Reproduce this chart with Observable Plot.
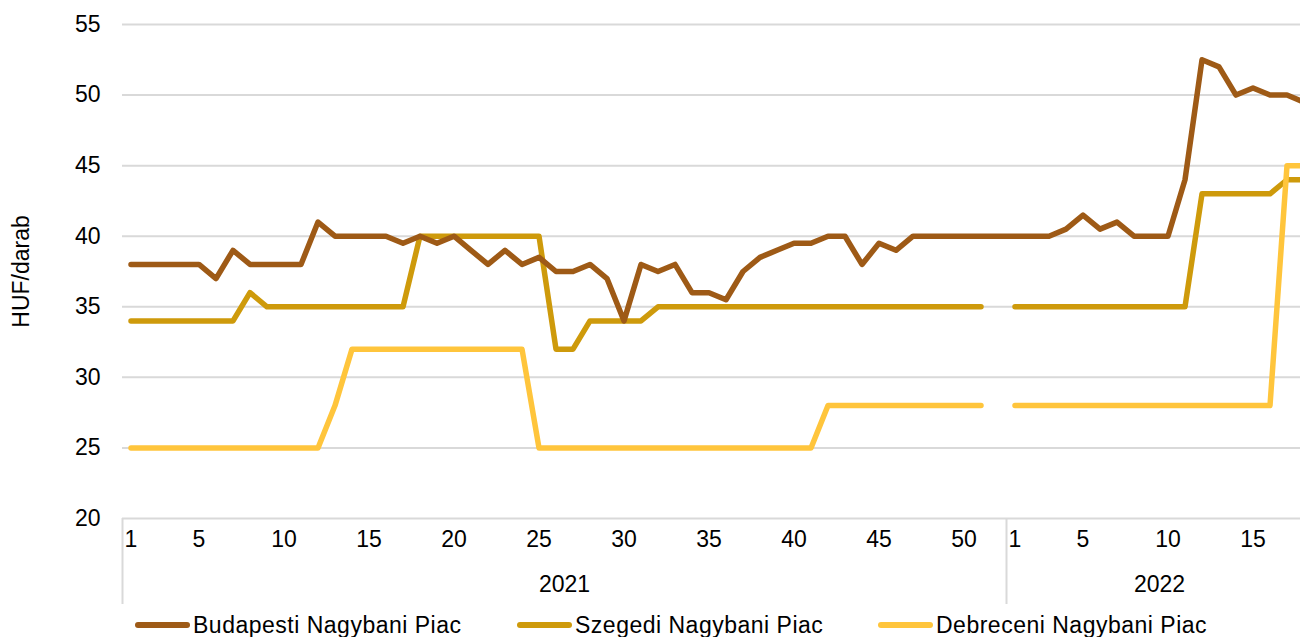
<!DOCTYPE html>
<html><head><meta charset="utf-8">
<script src="https://cdn.jsdelivr.net/npm/d3@7"></script>
<script src="https://cdn.jsdelivr.net/npm/@observablehq/plot@0.6"></script>
<style>
html,body{margin:0;padding:0;background:#fff;overflow:hidden}
#legend{position:relative;width:1300px;height:32px;font-family:"Liberation Sans",Arial,sans-serif;font-size:23px;letter-spacing:0.5px;color:#000}
.item{position:absolute;top:4px;height:32px;display:flex;align-items:center;white-space:nowrap}
.sw{width:55px;height:6px;border-radius:3px;margin-right:3px}
</style></head><body>
<div id="chart"></div><div id="legend"></div>
<script>
// Categories
const weeks2021 = d3.range(1, 53);
const weeks2022 = d3.range(1, 19);
const years = ["2021", "2022"];
const tickWeeks2021 = [1, 5, 10, 15, 20, 25, 30, 35, 40, 45, 50];
const tickWeeks2022 = [1, 5, 10, 15];
const yTicks = [20, 25, 30, 35, 40, 45, 50, 55];
const seriesNames = ["Budapesti Nagybani Piac", "Szegedi Nagybani Piac", "Debreceni Nagybani Piac"];
const seriesColors = ["#9E5A16", "#CE9A0B", "#FFC53C"];

// Values (HUF/darab)
const budapest2021 = [38,38,38,38,38,37,39,38,38,38,38,41,40,40,40,40,39.5,40,39.5,40,
  39,38,39,38,38.5,37.5,37.5,38,37,34,38,37.5,38,36,36,35.5,37.5,38.5,39,39.5,
  39.5,40,40,38,39.5,39,40,40,40,40,40,40];
const budapest2022 = [40,40,40,40.5,41.5,40.5,41,40,40,40,44,52.5,52,50,50.5,50,50,49.5];
const szeged2021 = [34,34,34,34,34,34,34,36,35,35,35,35,35,35,35,35,35,40,40,40,
  40,40,40,40,40,32,32,34,34,34,34,35,35,35,35,35,35,35,35,35,
  35,35,35,35,35,35,35,35,35,35,35,null];
const szeged2022 = [35,35,35,35,35,35,35,35,35,35,35,43,43,43,43,43,44,44];
const debrecen2021 = [25,25,25,25,25,25,25,25,25,25,25,25,28,32,32,32,32,32,32,32,
  32,32,32,32,25,25,25,25,25,25,25,25,25,25,25,25,25,25,25,25,
  25,28,28,28,28,28,28,28,28,28,28,null];
const debrecen2022 = [28,28,28,28,28,28,28,28,28,28,28,28,28,28,28,28,45,45];

const values = {
  "Budapesti Nagybani Piac": [budapest2021, budapest2022],
  "Szegedi Nagybani Piac": [szeged2021, szeged2022],
  "Debreceni Nagybani Piac": [debrecen2021, debrecen2022]
};

const n2021 = weeks2021.length;
const drawOrder = [seriesNames[1], seriesNames[2], seriesNames[0]];
const rows = [];
for (const s of drawOrder) {
  const [a, b] = values[s];
  weeks2021.forEach((w, k) => rows.push({series: s, i: k, value: a[k]}));
  weeks2022.forEach((w, k) => rows.push({series: s, i: n2021 + k, value: b[k]}));
}
const tickRows = [
  ...tickWeeks2021.map(w => ({i: weeks2021.indexOf(w), label: String(w)})),
  ...tickWeeks2022.map(w => ({i: n2021 + weeks2022.indexOf(w), label: String(w)}))
];
const nAll = n2021 + weeks2022.length;
const yearRows = [
  {i: (n2021 - 1) / 2, label: years[0]},
  {i: (n2021 + nAll - 1) / 2, label: years[1]}
];
const separators = [-0.5, n2021 - 0.5];

const chart = Plot.plot({
  width: 1300, height: 605,
  marginLeft: 122, marginRight: 0, marginTop: 24, marginBottom: 87,
  x: {type: "linear", domain: [-0.5, nAll - 0.5], range: [122, 122 + nAll * 17], axis: null},
  y: {domain: [20, 55], axis: null},
  color: {domain: seriesNames, range: seriesColors},
  style: {fontFamily: "'Liberation Sans', Arial, sans-serif", fontSize: "23px", color: "#000", background: "#fff"},
  marks: [
    Plot.ruleY(yTicks, {stroke: "#d9d9d9", strokeWidth: 2}),
    Plot.ruleX(separators, {x: d => d, y1: 20, y2: 20, insetBottom: -86, stroke: "#d9d9d9", strokeWidth: 2}),
    Plot.line(rows, {x: "i", y: "value", z: "series", stroke: "series", strokeWidth: 5.5,
      strokeLinecap: "round", strokeLinejoin: "round", clip: true}),
    Plot.text(yTicks, {y: d => d, text: d => String(d), frameAnchor: "left", textAnchor: "end", dx: -22}),
    Plot.text(tickRows, {x: "i", text: "label", frameAnchor: "bottom", dy: 28}),
    Plot.text(yearRows, {x: "i", text: "label", frameAnchor: "bottom", dy: 73}),
    Plot.text(["HUF/darab"], {text: d => d, frameAnchor: "left", textAnchor: "middle", dx: -101, rotate: -90})
  ]
});
document.getElementById("chart").appendChild(chart);

const legendX = [135, 517, 878];
const legend = document.getElementById("legend");
seriesNames.forEach((name, k) => {
  const item = document.createElement("div");
  item.className = "item";
  item.style.left = legendX[k] + "px";
  const sw = document.createElement("span");
  sw.className = "sw";
  sw.style.background = seriesColors[k];
  const t = document.createElement("span");
  t.textContent = name;
  item.appendChild(sw); item.appendChild(t);
  legend.appendChild(item);
});
</script>
</body></html>
